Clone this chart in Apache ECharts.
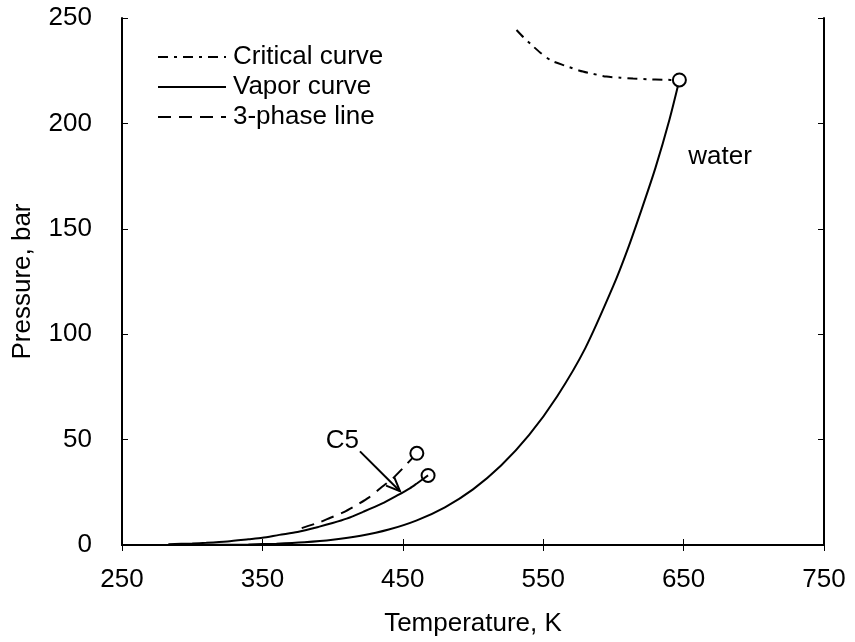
<!DOCTYPE html>
<html>
<head>
<meta charset="utf-8">
<script src="https://cdn.jsdelivr.net/npm/echarts@6/dist/echarts.min.js"></script>
<style>
  html, body { margin: 0; padding: 0; background: #fff; }
  #chart { width: 855px; height: 642px; }
</style>
</head>
<body>
<div id="chart"></div>
<script>
// Temperature (K) / pressure (bar) pairs for each curve
const criticalCurve = [
  [531, 244.3], [536, 240.8], [541, 237.7], [548, 233.5], [556, 229.7], [566, 227.3],
  [576, 225.0], [585, 223.6], [595, 222.2], [605, 221.7], [614, 221.3],
  [625, 220.9], [635, 220.7], [647, 220.6]
];
const waterVapor = [
  [283, 0.012], [300, 0.035], [320, 0.106], [340, 0.272], [360, 0.62],
  [380, 1.29], [400, 2.46], [420, 4.37], [440, 7.33], [460, 11.7],
  [480, 17.9], [500, 26.4], [520, 37.7], [540, 52.2], [560, 70.6],
  [580, 93.4], [600, 123.0], [610, 140], [620, 159], [630, 179],
  [640, 202], [647, 220.6]
];
const c5Vapor = [
  [283, 0.37], [300, 0.73], [310, 1.05], [325, 1.7], [340, 2.7],
  [350, 3.4], [362, 4.8], [375, 6.2], [390, 8.6], [400, 10.4],
  [410, 12.5], [422, 15.8], [435, 19.6], [446, 23.5], [455, 26.9],
  [460, 29.2], [468, 33.0]
];
const threePhase = [
  [378, 8.0], [390, 10.6], [398, 12.8], [408, 15.6], [417, 18.9],
  [426, 22.6], [434, 26.9], [443, 31.7], [450, 36.4], [460, 43.5]
];
// Critical points / end points drawn as open circles
const waterCritical = [[647, 220.6]];
const c5Critical = [[468, 33.0]];
const upperEndPoint = [[460, 43.5]];
// Annotations
const waterLabel = [[676, 184]];
const c5Label = [[407, 49.6]];
const c5Arrow = [[419.5, 44.4], [448, 25.5]];
const xTicks = [250, 350, 450, 550, 650, 750];
const yTicks = [0, 50, 100, 150, 200, 250];

const FONT = 'Liberation Sans';
const FS = 26;
const chart = echarts.init(document.getElementById('chart'));

const axisLine = { show: true, lineStyle: { color: '#000', width: 2 } };
const innerTick = { show: true, inside: true, length: 6, lineStyle: { color: '#000', width: 1 } };
const curve = (name, data, type) => ({
  name: name, type: 'line', data: data, smooth: 0.25,
  symbol: 'none', itemStyle: { color: '#000' },
  lineStyle: { color: '#000', width: 2, type: type }, z: 3
});
const circle = (name, data, fill) => ({
  name: name, type: 'scatter', data: data, symbol: 'circle', symbolSize: 13,
  itemStyle: { color: fill, borderColor: '#000', borderWidth: 2, opacity: 1 }, z: 5
});
const textMark = (name, data, text) => ({
  name: name, type: 'scatter', data: data, symbol: 'circle', symbolSize: 1, silent: true,
  itemStyle: { color: 'rgba(0,0,0,0)', opacity: 1 },
  label: { show: true, position: 'inside', formatter: text, fontFamily: FONT, fontSize: FS, color: '#000', opacity: 1 },
  z: 6
});

chart.setOption({
  animation: false,
  backgroundColor: '#fff',
  grid: { left: 122, right: 31, top: 18, bottom: 95, containLabel: false },
  legend: {
    data: ['Critical curve', 'Vapor curve', '3-phase line'],
    orient: 'vertical',
    left: 152,
    top: 37,
    itemWidth: 68,
    itemHeight: 14,
    itemGap: 0,
    itemStyle: { color: 'rgba(0,0,0,0)', borderWidth: 0 },
    textStyle: { fontFamily: FONT, fontSize: FS, color: '#000', lineHeight: 30, padding: [0, 0, 0, 2] }
  },
  xAxis: [{
    type: 'value', min: xTicks[0], max: xTicks[xTicks.length - 1], interval: 100,
    name: 'Temperature, K', nameLocation: 'middle', nameGap: 66,
    nameTextStyle: { fontFamily: FONT, fontSize: FS, color: '#000' },
    axisLine: axisLine, axisTick: innerTick,
    axisLabel: { fontFamily: FONT, fontSize: FS, color: '#000', margin: 22 },
    splitLine: { show: false }
  }, {
    type: 'value', position: 'top', min: xTicks[0], max: xTicks[xTicks.length - 1], interval: 100,
    axisLine: axisLine, axisTick: innerTick, axisLabel: { show: false }, splitLine: { show: false }
  }],
  yAxis: [{
    type: 'value', min: yTicks[0], max: yTicks[yTicks.length - 1], interval: 50,
    name: 'Pressure, bar', nameLocation: 'middle', nameGap: 86, nameRotate: 90,
    nameTextStyle: { fontFamily: FONT, fontSize: FS, color: '#000' },
    axisLine: axisLine, axisTick: innerTick,
    axisLabel: { fontFamily: FONT, fontSize: FS, color: '#000', margin: 30 },
    splitLine: { show: false }
  }, {
    type: 'value', position: 'right', min: yTicks[0], max: yTicks[yTicks.length - 1], interval: 50,
    axisLine: axisLine, axisTick: innerTick, axisLabel: { show: false }, splitLine: { show: false }
  }],
  series: [
    curve('Critical curve', criticalCurve, [10, 6, 3, 6]),
    curve('Vapor curve', waterVapor, 'solid'),
    curve('Vapor curve', c5Vapor, 'solid'),
    curve('3-phase line', threePhase, [13, 8]),
    circle('water-cp', waterCritical, '#fff'),
    circle('c5-cp', c5Critical, 'rgba(255,255,255,0)'),
    circle('ucep', upperEndPoint, '#fff'),
    textMark('water-label', waterLabel, 'water'),
    textMark('c5-label', c5Label, 'C5'),
    {
      name: 'c5-arrow', type: 'custom', silent: true,
      data: [c5Arrow[0].concat(c5Arrow[1])],
      renderItem: function (params, api) {
        const p0 = api.coord([api.value(0), api.value(1)]);
        const p1 = api.coord([api.value(2), api.value(3)]);
        const ang = Math.atan2(p1[1] - p0[1], p1[0] - p0[0]);
        const L = 15, spread = 0.4;
        const h1 = [p1[0] - L * Math.cos(ang - spread), p1[1] - L * Math.sin(ang - spread)];
        const h2 = [p1[0] - L * Math.cos(ang + spread), p1[1] - L * Math.sin(ang + spread)];
        const st = { stroke: '#000', lineWidth: 2, fill: null };
        return {
          type: 'group',
          children: [
            { type: 'line', shape: { x1: p0[0], y1: p0[1], x2: p1[0], y2: p1[1] }, style: st },
            { type: 'polyline', shape: { points: [h1, p1, h2] }, style: st }
          ]
        };
      },
      z: 6
    }
  ]
});
</script>
</body>
</html>
